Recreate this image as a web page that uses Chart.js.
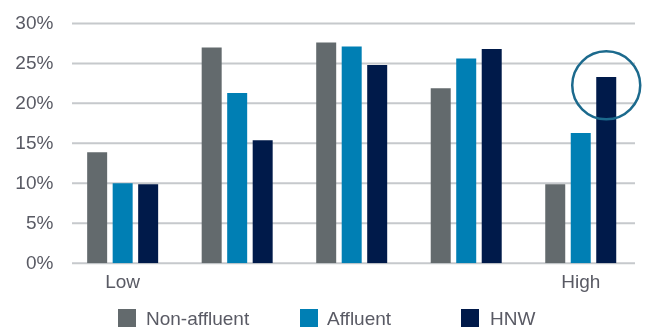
<!DOCTYPE html>
<html>
<head>
<meta charset="utf-8">
<script src="https://cdn.jsdelivr.net/npm/chart.js@4/dist/chart.umd.min.js"></script>
<style>
  html, body { margin: 0; padding: 0; background: #fff; }
  #wrap { position: relative; width: 645px; height: 327px; overflow: hidden; }
  canvas { position: absolute; left: 0; top: 0; }
  .lg { position: absolute; top: 309px; height: 19px; font: 19px "Liberation Sans", Arial, sans-serif; line-height: 19px; color: #595a64; white-space: nowrap; }
  .sw { position: absolute; width: 17.5px; height: 17.5px; top: 309px; }
</style>
</head>
<body>
<div id="wrap">
  <canvas id="c" width="645" height="327"></canvas>
  <div class="sw" style="left:118px;background:#636a6d"></div>
  <div class="lg" style="left:146px">Non-affluent</div>
  <div class="sw" style="left:300px;background:#007fb4"></div>
  <div class="lg" style="left:327px">Affluent</div>
  <div class="sw" style="left:461px;background:#001a4a"></div>
  <div class="lg" style="left:490px">HNW</div>
</div>
<script>
const categories = ['Low', '', '', '', 'High'];
const nonAffluent = [13.9, 27.0, 27.6, 21.9, 9.9];
const affluent = [10.0, 21.3, 27.1, 25.6, 16.3];
const hnw = [9.9, 15.4, 24.8, 26.8, 23.3];
const yTicks = [0, 5, 10, 15, 20, 25, 30];

const gridPlugin = {
  id: 'gridFromTicks',
  beforeDatasetsDraw(chart) {
    const ctx = chart.ctx, y = chart.scales.y;
    ctx.save();
    ctx.strokeStyle = '#c6c9cc';
    ctx.lineWidth = 2;
    yTicks.forEach(v => {
      const py = y.getPixelForValue(v);
      ctx.beginPath();
      ctx.moveTo(72, py);
      ctx.lineTo(635, py);
      ctx.stroke();
    });
    ctx.restore();
  }
};

const circlePlugin = {
  id: 'highlight',
  afterDatasetsDraw(chart) {
    const meta = chart.getDatasetMeta(2);
    const el = meta.data[4];
    const ctx = chart.ctx;
    const cy = chart.scales.y.getPixelForValue(22.25);
    ctx.save();
    ctx.strokeStyle = '#1c6a8d';
    ctx.lineWidth = 2.5;
    ctx.beginPath();
    ctx.arc(el.x, cy, 34, 0, Math.PI * 2);
    ctx.stroke();
    ctx.restore();
  }
};

new Chart(document.getElementById('c'), {
  type: 'bar',
  data: {
    labels: categories,
    datasets: [
      { label: 'Non-affluent', data: nonAffluent, backgroundColor: '#636a6d' },
      { label: 'Affluent', data: affluent, backgroundColor: '#007fb4' },
      { label: 'HNW', data: hnw, backgroundColor: '#001a4a' }
    ]
  },
  options: {
    responsive: false,
    animation: false,
    devicePixelRatio: 1,
    categoryPercentage: 0.668,
    barPercentage: 0.784,
    layout: { padding: { top: 23, right: 7, left: 0, bottom: 0 } },
    plugins: { legend: { display: false }, tooltip: { enabled: false } },
    scales: {
      x: {
        grid: { display: false, drawTicks: false },
        border: { display: false },
        ticks: { color: '#595a64', font: { family: '"Liberation Sans", Arial, sans-serif', size: 19 }, padding: 8, maxRotation: 0, autoSkip: false },
        afterFit(s) { s.height = 63.7; }
      },
      y: {
        min: 0, max: 30,
        grid: { display: false, drawTicks: false },
        border: { display: false },
        ticks: { stepSize: 5, color: '#595a64', font: { family: '"Liberation Sans", Arial, sans-serif', size: 19 }, padding: 12, callback: v => v + '%' },
        afterFit(s) { s.width = 65.4; }
      }
    }
  },
  plugins: [gridPlugin, circlePlugin]
});
</script>
</body>
</html>
